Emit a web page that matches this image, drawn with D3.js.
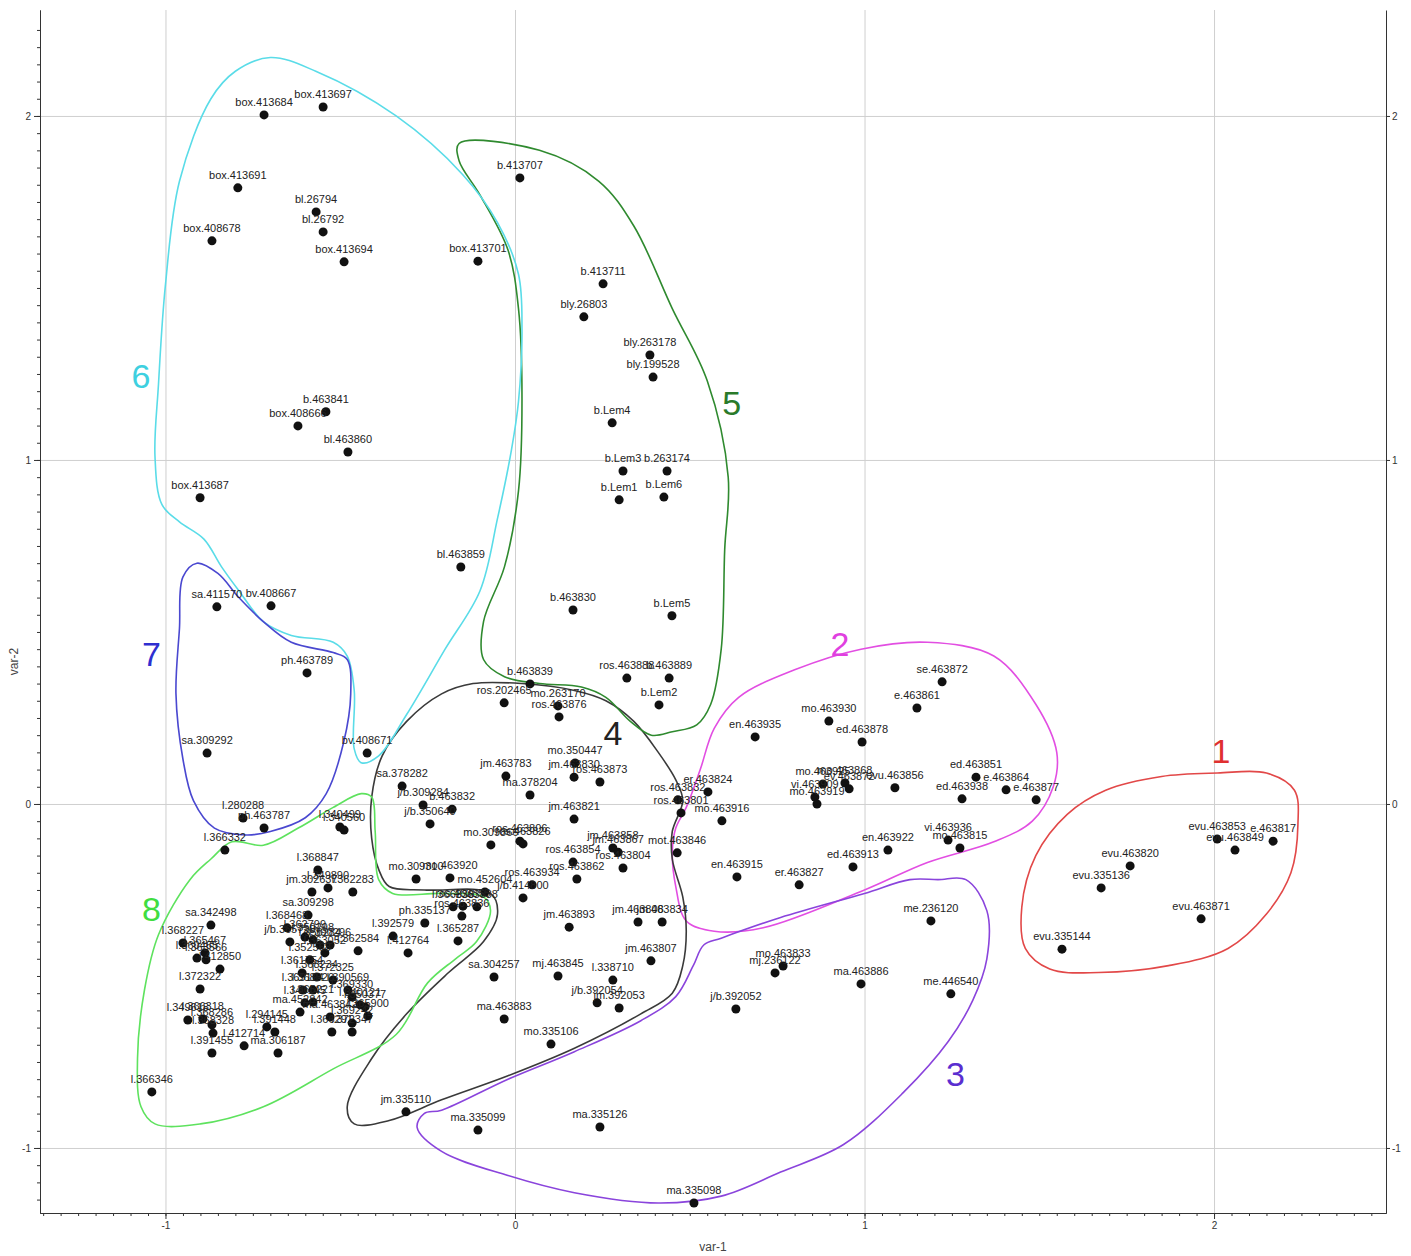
<!DOCTYPE html>
<html>
<head>
<meta charset="utf-8">
<script src="https://cdn.jsdelivr.net/npm/d3@7"></script>
<style>
    body { margin: 0; background: #fff; }
    #chart { width: 1411px; height: 1256px; }
    .pt-label { font-family: "Liberation Sans", Arial, sans-serif; font-size: 11px; fill: #222; }
    .axis text { font-family: "Liberation Sans", Arial, sans-serif; font-size: 10px; fill: #333; }
    .axis path, .axis line { stroke: #333; }
    .grid line { stroke: #cfcfcf; }
    .grid path { display: none; }
    .cl-num { font-family: "Liberation Sans", Arial, sans-serif; font-size: 34px; }
    .ax-title { font-family: "Liberation Sans", Arial, sans-serif; font-size: 12px; fill: #444; }
</style>
</head>
<body>
<div id="chart"></div>
<script>

// ---- data: [label, var-1, var-2] ----
let cluster1 = [
    ["evu.463853", 2.009, -0.102], ["evu.463849", 2.060, -0.134], ["e.463817", 2.169, -0.108],
    ["evu.463820", 1.760, -0.180], ["evu.335136", 1.677, -0.244], ["evu.463871", 1.963, -0.334],
    ["evu.335144", 1.565, -0.422]
];

let cluster2 = [
    ["se.463872", 1.222, 0.355], ["e.463861", 1.150, 0.279], ["mo.463930", 0.898, 0.241],
    ["ed.463878", 0.993, 0.180], ["en.463935", 0.687, 0.195], ["mo.463925", 0.881, 0.058],
    ["mo.463868", 0.944, 0.061], ["ev.463872", 0.956, 0.044], ["vi.463909", 0.858, 0.020],
    ["mo.463919", 0.864, 0.000], ["evu.463856", 1.087, 0.047], ["ed.463851", 1.319, 0.078],
    ["e.463864", 1.405, 0.041], ["ed.463938", 1.279, 0.015], ["e.463877", 1.491, 0.012],
    ["vi.463936", 1.239, -0.105], ["mo.463815", 1.273, -0.128], ["en.463922", 1.067, -0.134],
    ["ed.463913", 0.967, -0.183], ["en.463915", 0.635, -0.212], ["er.463827", 0.813, -0.235],
    ["mo.463916", 0.592, -0.049], ["er.463824", 0.552, 0.035]
];

let cluster3 = [
    ["ma.335099", -0.106, -0.948], ["ma.335126", 0.243, -0.939], ["ma.335098", 0.512, -1.160],
    ["me.236120", 1.190, -0.340], ["mo.463833", 0.767, -0.471], ["mj.236122", 0.744, -0.491],
    ["ma.463886", 0.990, -0.523], ["me.446540", 1.247, -0.552], ["j/b.392052", 0.632, -0.596]
];

let cluster4 = [
    ["b.463839", 0.043, 0.349], ["ros.202465", -0.031, 0.294], ["mo.263170", 0.123, 0.285],
    ["ros.463876", 0.126, 0.253], ["mo.350447", 0.172, 0.119], ["jm.463830", 0.169, 0.078],
    ["ros.463873", 0.243, 0.064], ["jm.463783", -0.026, 0.081], ["ma.378204", 0.043, 0.026],
    ["sa.378282", -0.323, 0.052], ["j/b.309284", -0.263, -0.003], ["b.463832", -0.180, -0.015],
    ["j/b.350640", -0.243, -0.058], ["jm.463821", 0.169, -0.044], ["mo.309866", -0.069, -0.119],
    ["ros.463806", 0.014, -0.108], ["ros.463826", 0.023, -0.116], ["ros.463832", 0.466, 0.012],
    ["ros.463801", 0.475, -0.026], ["jm.463858", 0.280, -0.128], ["jm.463867", 0.295, -0.140],
    ["ros.463804", 0.309, -0.186], ["mot.463846", 0.464, -0.142], ["ros.463854", 0.166, -0.169],
    ["ros.463862", 0.177, -0.218], ["mo.309310", -0.283, -0.218], ["mo.463920", -0.186, -0.215],
    ["mo.452604", -0.086, -0.256], ["ros.463934", 0.049, -0.235], ["j/b.414800", 0.023, -0.273],
    ["jm.463893", 0.155, -0.358], ["jm.463808", 0.352, -0.343], ["jm.463834", 0.421, -0.343],
    ["jm.463807", 0.389, -0.456], ["sa.304257", -0.060, -0.503], ["mj.463845", 0.123, -0.500],
    ["l.338710", 0.280, -0.512], ["j/b.392054", 0.235, -0.578], ["jm.392053", 0.298, -0.593],
    ["ma.463883", -0.031, -0.625], ["mo.335106", 0.103, -0.698], ["jm.335110", -0.312, -0.895]
];

let cluster5 = [
    ["b.413707", 0.014, 1.820], ["b.413711", 0.252, 1.512], ["bly.26803", 0.197, 1.416],
    ["bly.263178", 0.386, 1.305], ["bly.199528", 0.395, 1.241], ["b.Lem4", 0.278, 1.108],
    ["b.Lem3", 0.309, 0.968], ["b.263174", 0.435, 0.968], ["b.Lem1", 0.298, 0.884],
    ["b.Lem6", 0.426, 0.892], ["b.463830", 0.166, 0.564], ["b.Lem5", 0.449, 0.547],
    ["ros.463888", 0.320, 0.366], ["b.463889", 0.441, 0.366], ["b.Lem2", 0.412, 0.288]
];

let cluster6 = [
    ["box.413684", -0.718, 2.003], ["box.413697", -0.549, 2.026], ["box.413691", -0.793, 1.791],
    ["bl.26794", -0.569, 1.721], ["bl.26792", -0.549, 1.663], ["box.408678", -0.867, 1.637],
    ["box.413694", -0.489, 1.576], ["box.413701", -0.106, 1.578], ["b.463841", -0.541, 1.140],
    ["box.408666", -0.621, 1.099], ["bl.463860", -0.478, 1.023], ["box.413687", -0.901, 0.890],
    ["bl.463859", -0.155, 0.689], ["bv.408671", -0.423, 0.148], ["bv.408667", -0.698, 0.576]
];

let cluster7 = [
    ["sa.411570", -0.853, 0.573], ["ph.463789", -0.595, 0.381], ["sa.309292", -0.881, 0.148],
    ["l.280288", -0.778, -0.041], ["ph.463787", -0.718, -0.070]
];

let cluster8 = [
    ["l.366332", -0.830, -0.134], ["l.340499", -0.501, -0.067], ["l.340560", -0.489, -0.076],
    ["l.366346", -1.039, -0.837], ["sa.342498", -0.870, -0.352], ["l.368227", -0.950, -0.404],
    ["l.365467", -0.887, -0.433], ["l.360465", -0.910, -0.448], ["l.363566", -0.884, -0.453],
    ["l.412850", -0.844, -0.480], ["l.372322", -0.901, -0.538], ["l.349618", -0.936, -0.628],
    ["l.366318", -0.893, -0.625], ["l.368286", -0.867, -0.642], ["l.368328", -0.864, -0.666],
    ["l.391455", -0.867, -0.724], ["l.412714", -0.775, -0.703], ["l.294145", -0.710, -0.648],
    ["l.391448", -0.687, -0.663], ["ma.306187", -0.678, -0.724], ["ma.452842", -0.615, -0.605],
    ["l.368847", -0.564, -0.192], ["jm.302637", -0.581, -0.256], ["l.349890", -0.535, -0.244],
    ["l.362283", -0.464, -0.256], ["sa.309298", -0.592, -0.323], ["l.368468", -0.652, -0.360],
    ["j/b.365728", -0.644, -0.401], ["l.362799", -0.601, -0.387], ["l.350298", -0.578, -0.395],
    ["l.356284", -0.558, -0.410], ["l.390296", -0.529, -0.410], ["l.363052", -0.544, -0.433],
    ["l.362584", -0.449, -0.427], ["l.352568", -0.587, -0.453], ["l.361754", -0.609, -0.491],
    ["l.368234", -0.567, -0.503], ["l.372325", -0.521, -0.512], ["l.369124", -0.607, -0.541],
    ["l.368820", -0.578, -0.541], ["l.340145", -0.601, -0.578], ["l.365221", -0.578, -0.576],
    ["l.390569", -0.478, -0.541], ["l.369330", -0.466, -0.561], ["l.340121", -0.443, -0.584],
    ["l.350377", -0.429, -0.590], ["ma.463842", -0.529, -0.619], ["l.369242", -0.466, -0.637],
    ["l.365900", -0.421, -0.616], ["l.366291", -0.524, -0.663], ["l.372347", -0.466, -0.663],
    ["l.392579", -0.349, -0.384], ["l.412764", -0.306, -0.433], ["ph.335137", -0.258, -0.346],
    ["l.365287", -0.163, -0.398], ["l.366338", -0.177, -0.299], ["ros.463855", -0.149, -0.297],
    ["l.363838", -0.109, -0.299], ["ros.463836", -0.152, -0.326]
];

// hand drawn cluster outlines, in var-1 / var-2 units
let outline1 = [[2.01,0.09],[2.15,0.09],[2.23,0.04],[2.24,-0.06],[2.22,-0.20],[2.15,-0.32],[2.04,-0.42],
    [1.87,-0.47],[1.67,-0.49],[1.53,-0.48],[1.46,-0.42],[1.45,-0.30],[1.49,-0.15],[1.58,-0.03],[1.69,0.04],[1.85,0.08]];
let outline2 = [[0.99,0.45],[1.18,0.47],[1.37,0.43],[1.49,0.29],[1.55,0.15],[1.54,0.05],[1.48,-0.05],
    [1.37,-0.11],[1.18,-0.17],[1.00,-0.25],[0.71,-0.36],[0.57,-0.37],[0.49,-0.34],[0.46,-0.24],[0.45,-0.14],
    [0.46,-0.07],[0.49,-0.01],[0.53,0.10],[0.57,0.22],[0.64,0.31],[0.80,0.39]];
let outline3 = [[1.21,-0.22],[1.29,-0.22],[1.35,-0.31],[1.35,-0.45],[1.31,-0.57],[1.24,-0.69],[1.11,-0.84],
    [0.94,-0.99],[0.76,-1.07],[0.59,-1.14],[0.41,-1.16],[0.17,-1.13],[-0.02,-1.08],[-0.21,-1.01],[-0.28,-0.94],
    [-0.26,-0.90],[-0.21,-0.89],[-0.02,-0.80],[0.17,-0.72],[0.36,-0.63],[0.46,-0.56],[0.51,-0.47],[0.54,-0.41],
    [0.59,-0.39],[0.76,-0.33],[1.00,-0.26],[1.13,-0.22]];
let outline4 = [[-0.12,0.35],[0.02,0.35],[0.17,0.33],[0.26,0.30],[0.34,0.24],[0.41,0.15],[0.46,0.07],
    [0.48,0.01],[0.45,-0.08],[0.45,-0.16],[0.48,-0.27],[0.49,-0.37],[0.48,-0.47],[0.45,-0.55],[0.36,-0.61],
    [0.17,-0.71],[-0.02,-0.79],[-0.21,-0.86],[-0.36,-0.92],[-0.46,-0.93],[-0.48,-0.88],[-0.41,-0.74],
    [-0.31,-0.61],[-0.19,-0.49],[-0.09,-0.40],[-0.05,-0.32],[-0.07,-0.26],[-0.26,-0.25],[-0.36,-0.24],
    [-0.39,-0.19],[-0.41,-0.10],[-0.41,0.02],[-0.38,0.14],[-0.31,0.24],[-0.21,0.32]];
let outline5 = [[-0.16,1.92],[0.07,1.90],[0.24,1.81],[0.34,1.68],[0.45,1.44],[0.55,1.23],[0.61,0.95],
    [0.60,0.74],[0.59,0.45],[0.56,0.29],[0.52,0.23],[0.45,0.21],[0.39,0.20],[0.33,0.24],[0.26,0.31],
    [0.19,0.34],[0.07,0.35],[-0.03,0.37],[-0.09,0.42],[-0.09,0.53],[-0.03,0.69],[0.01,0.91],[0.02,1.18],
    [0.01,1.44],[-0.02,1.61],[-0.10,1.77],[-0.16,1.87]];
let outline6 = [[-0.70,2.17],[-0.57,2.13],[-0.34,2.00],[-0.15,1.83],[-0.05,1.69],[0.01,1.54],[0.02,1.38],
    [0.01,1.17],[-0.01,1.03],[-0.05,0.83],[-0.10,0.62],[-0.20,0.45],[-0.31,0.26],[-0.39,0.14],[-0.44,0.12],
    [-0.46,0.16],[-0.46,0.33],[-0.48,0.43],[-0.52,0.47],[-0.64,0.49],[-0.72,0.53],[-0.79,0.62],[-0.84,0.69],
    [-0.89,0.77],[-0.96,0.82],[-1.01,0.87],[-1.03,1.01],[-1.02,1.22],[-1.00,1.51],[-0.96,1.81],[-0.87,2.05],
    [-0.80,2.13]];
let outline7 = [[-0.91,0.70],[-0.85,0.67],[-0.79,0.60],[-0.72,0.53],[-0.64,0.47],[-0.52,0.44],[-0.48,0.42],
    [-0.47,0.32],[-0.49,0.18],[-0.54,0.03],[-0.60,-0.04],[-0.70,-0.08],[-0.77,-0.09],[-0.86,-0.07],
    [-0.92,0.01],[-0.95,0.13],[-0.97,0.32],[-0.96,0.51],[-0.95,0.66]];
let outline8 = [[-0.93,-0.22],[-0.87,-0.16],[-0.81,-0.11],[-0.72,-0.12],[-0.62,-0.07],[-0.52,-0.01],
    [-0.44,0.03],[-0.41,0.02],[-0.40,-0.08],[-0.39,-0.22],[-0.35,-0.26],[-0.21,-0.26],[-0.09,-0.27],
    [-0.07,-0.31],[-0.11,-0.40],[-0.17,-0.45],[-0.25,-0.52],[-0.34,-0.67],[-0.52,-0.77],[-0.72,-0.88],
    [-0.90,-0.93],[-1.03,-0.93],[-1.07,-0.88],[-1.08,-0.74],[-1.06,-0.54],[-1.02,-0.38]];

let clusterNames = ["1", "2", "3", "4", "5", "6", "7", "8"];
let clusterNamePos = [[2.02, 0.12], [0.93, 0.43], [1.26, -0.82], [0.28, 0.17],
    [0.62, 1.13], [-1.07, 1.21], [-1.04, 0.40], [-1.04, -0.34]];
let clusterColors = ["#e24848", "#e24ee2", "#8a44dc", "#3a3a3a", "#2f8a2f", "#5adce8", "#4a48d0", "#5ee25e"];
let clusterNameColors = ["#e03030", "#e040e0", "#5a2ed0", "#222", "#2a7a2a", "#3ed0e0", "#2f2fd0", "#40dd40"];

let tickValues = [-1, 0, 1, 2];


class ClusterVis {

    constructor(parentElement) {
        this.parentElement = parentElement;
        this.points = [cluster1, cluster2, cluster3, cluster4, cluster5, cluster6, cluster7, cluster8];
        this.outlines = [outline1, outline2, outline3, outline4, outline5, outline6, outline7, outline8];
        this.initVis();
    }

    initVis() {
        let vis = this;

        vis.margin = {top: 10, right: 25, bottom: 43, left: 40};
        vis.width = 1411 - vis.margin.left - vis.margin.right;
        vis.height = 1256 - vis.margin.top - vis.margin.bottom;

        vis.svg = d3.select("#" + vis.parentElement).append("svg")
            .attr("width", 1411)
            .attr("height", 1256)
            .append("g")
            .attr("transform", `translate(${vis.margin.left},${vis.margin.top})`);

        vis.x = d3.scaleLinear().domain([-1.359, 2.492]).range([0, vis.width]);
        vis.y = d3.scaleLinear().domain([-1.189, 2.308]).range([vis.height, 0]);

        // grid
        vis.svg.append("g").attr("class", "grid")
            .attr("transform", `translate(0,${vis.height})`)
            .call(d3.axisBottom(vis.x).tickValues(tickValues).tickSize(-vis.height).tickFormat(""));
        vis.svg.append("g").attr("class", "grid")
            .call(d3.axisLeft(vis.y).tickValues(tickValues).tickSize(-vis.width).tickFormat(""));

        // cluster outlines
        let line = d3.line()
            .x(d => vis.x(d[0]))
            .y(d => vis.y(d[1]))
            .curve(d3.curveCatmullRomClosed.alpha(0.5));

        vis.svg.append("g").attr("class", "outlines")
            .selectAll("path")
            .data(vis.outlines)
            .enter().append("path")
            .attr("d", line)
            .attr("fill", "none")
            .attr("stroke", (d, i) => clusterColors[i])
            .attr("stroke-width", 1.6);

        // points + labels
        let allPoints = vis.points.flat();

        vis.svg.append("g").attr("class", "dots")
            .selectAll("circle")
            .data(allPoints)
            .enter().append("circle")
            .attr("cx", d => vis.x(d[1]))
            .attr("cy", d => vis.y(d[2]))
            .attr("r", 4.5)
            .attr("fill", "#111");

        vis.svg.append("g").attr("class", "labels")
            .selectAll("text")
            .data(allPoints)
            .enter().append("text")
            .attr("class", "pt-label")
            .attr("x", d => vis.x(d[1]))
            .attr("y", d => vis.y(d[2]) - 9)
            .attr("text-anchor", "middle")
            .text(d => d[0]);

        // cluster numbers
        vis.svg.append("g")
            .selectAll("text")
            .data(clusterNames)
            .enter().append("text")
            .attr("class", "cl-num")
            .attr("x", (d, i) => vis.x(clusterNamePos[i][0]))
            .attr("y", (d, i) => vis.y(clusterNamePos[i][1]))
            .attr("text-anchor", "middle")
            .attr("fill", (d, i) => clusterNameColors[i])
            .text(d => d);

        // minor ticks
        let minorX = d3.range(-1.35, 2.49, 0.05);
        let minorY = d3.range(-1.15, 2.3, 0.05);
        vis.svg.append("g").attr("class", "axis")
            .attr("transform", `translate(0,${vis.height})`)
            .call(d3.axisBottom(vis.x).tickValues(minorX).tickSize(3).tickFormat("").tickSizeOuter(0));
        vis.svg.append("g").attr("class", "axis")
            .call(d3.axisLeft(vis.y).tickValues(minorY).tickSize(3).tickFormat("").tickSizeOuter(0));

        // major axes
        let fmt = d => String(d);
        vis.svg.append("g").attr("class", "axis")
            .attr("transform", `translate(0,${vis.height})`)
            .call(d3.axisBottom(vis.x).tickValues(tickValues).tickSize(6).tickFormat(fmt).tickSizeOuter(0));
        vis.svg.append("g").attr("class", "axis")
            .call(d3.axisLeft(vis.y).tickValues(tickValues).tickSize(6).tickFormat(fmt).tickSizeOuter(0));
        vis.svg.append("g").attr("class", "axis")
            .attr("transform", `translate(${vis.width},0)`)
            .call(d3.axisRight(vis.y).tickValues(tickValues).tickSize(4).tickPadding(2).tickFormat(fmt).tickSizeOuter(0));

        // axis titles
        vis.svg.append("text")
            .attr("class", "ax-title")
            .attr("x", vis.width / 2)
            .attr("y", vis.height + 38)
            .attr("text-anchor", "middle")
            .text("var-1");

        vis.svg.append("text")
            .attr("class", "ax-title")
            .attr("transform", `translate(-22,${vis.height / 2 + 50}) rotate(-90)`)
            .attr("text-anchor", "middle")
            .text("var-2");
    }
}

new ClusterVis("chart");

</script>
</body>
</html>
